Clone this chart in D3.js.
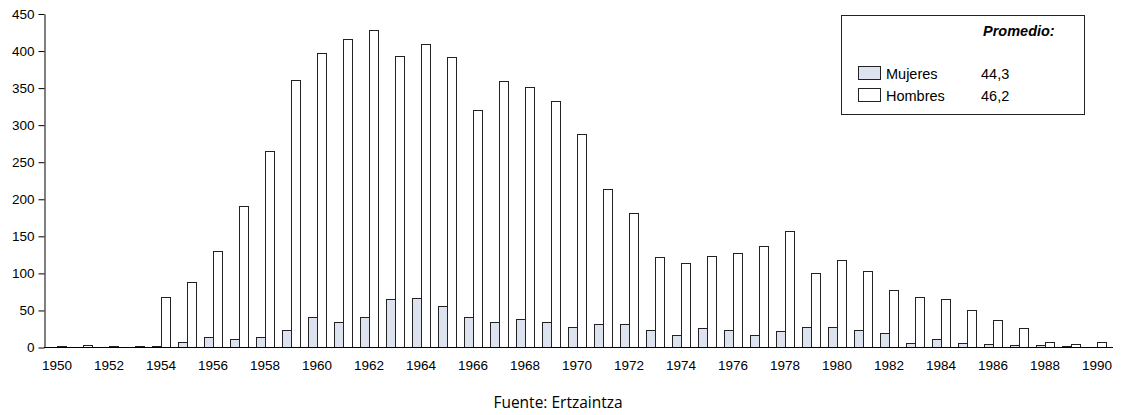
<!DOCTYPE html>
<html>
<head>
<meta charset="utf-8">
<script src="https://cdn.jsdelivr.net/npm/d3@7"></script>
<style>
  body { margin: 0; background: #fff; }
  text { font-family: "Liberation Sans", Arial, sans-serif; }
</style>
</head>
<body>
<div id="chart"></div>
<script>
// data
const years = d3.range(1950, 1991);
const mujeres = [0, 0, 0, 0, 1, 7, 14, 11, 14, 23, 41, 35, 41, 65, 67, 56, 41, 35, 38, 34, 27, 32, 32, 23, 17, 26, 24, 17, 22, 28, 28, 23, 20, 6, 11, 6, 5, 3, 3, 1, 0];
const hombres = [1, 3, 1, 1, 68, 88, 130, 191, 265, 361, 398, 416, 428, 394, 410, 392, 321, 359, 351, 333, 288, 214, 181, 122, 114, 123, 127, 137, 157, 101, 118, 103, 78, 68, 65, 50, 37, 26, 8, 5, 8];
const series = ['Mujeres', 'Hombres'];
const promedio = ['44,3', '46,2'];
const yTicks = d3.range(0, 451, 50);

const [width, height] = [1123, 415];
const colors = { Mujeres: '#dde3ee', Hombres: '#ffffff' };

const svg = d3.select('#chart')
    .append('svg')
    .attr('width', width)
    .attr('height', height);

const x = d3.scaleBand()
    .domain(years)
    .range([44, 1110]);

const x1 = d3.scaleBand()
    .domain(series)
    .range([0, x.bandwidth()])
    .paddingOuter(0.37);

const y = d3.scaleLinear()
    .domain([0, 450])
    .range([347.5, 14]);

const rows = years.map((yr, i) => ({ year: yr, Mujeres: mujeres[i], Hombres: hombres[i] }));

// bars (tiny values still show as a thin dark bar, like the original)
const barTop = v => Math.min(Math.round(y(v)) + 0.5, y(0) - 1);

svg.append('g')
    .selectAll('g')
    .data(rows)
    .enter()
    .append('g')
    .attr('transform', d => `translate(${x(d.year)},0)`)
    .selectAll('rect')
    .data(d => series.map(s => ({ key: s, value: d[s] })).filter(d => d.value > 0))
    .enter()
    .append('rect')
    .attr('x', d => Math.round(x1(d.key)) + 0.5)
    .attr('width', Math.round(x1.bandwidth()))
    .attr('y', d => barTop(d.value))
    .attr('height', d => y(0) - barTop(d.value))
    .attr('fill', d => colors[d.key])
    .attr('stroke', '#222')
    .attr('stroke-width', 1);

// y axis
const yAxis = svg.append('g')
    .attr('transform', 'translate(44.5,0)')
    .call(d3.axisLeft(y).tickValues(yTicks).tickSize(6).tickSizeOuter(0).tickPadding(4));
yAxis.select('.domain').attr('stroke', '#000');
yAxis.selectAll('.tick line').attr('stroke', '#000');
yAxis.selectAll('text').style('font-size', '13.5px').attr('fill', '#000');

// x axis
const xAxis = svg.append('g')
    .attr('transform', `translate(0,${y(0)})`)
    .call(d3.axisBottom(x)
        .tickSize(0)
        .tickSizeOuter(0)
        .tickPadding(13)
        .tickFormat(d => d % 2 === 0 ? d : ''));
xAxis.select('.domain').attr('stroke', '#000').attr('d', 'M44,0H1113');
xAxis.selectAll('text').style('font-size', '13.5px').attr('fill', '#000');

// legend
const lg = svg.append('g');
lg.append('rect')
    .attr('x', 841.5).attr('y', 15.5)
    .attr('width', 243).attr('height', 99)
    .attr('fill', '#fff').attr('stroke', '#222');
lg.append('text')
    .attr('x', 983).attr('y', 36)
    .style('font-size', '14.5px')
    .style('font-weight', 'bold')
    .style('font-style', 'italic')
    .text('Promedio:');
series.forEach((s, i) => {
    const yy = 66 + i * 22;
    lg.append('rect')
        .attr('x', 858.5).attr('y', yy + 0.5)
        .attr('width', 22).attr('height', 13)
        .attr('fill', colors[s]).attr('stroke', '#222');
    lg.append('text')
        .attr('x', 886).attr('y', yy + 12.5)
        .style('font-size', '14.5px')
        .text(s);
    lg.append('text')
        .attr('x', 981).attr('y', yy + 12.5)
        .style('font-size', '14.5px')
        .text(promedio[i]);
});

// source
svg.append('text')
    .attr('x', 558).attr('y', 408)
    .attr('text-anchor', 'middle')
    .style('font-family', '"Open Sans", sans-serif')
    .style('font-size', '15.5px')
    .attr('fill', '#000')
    .text('Fuente: Ertzaintza');
</script>
</body>
</html>
